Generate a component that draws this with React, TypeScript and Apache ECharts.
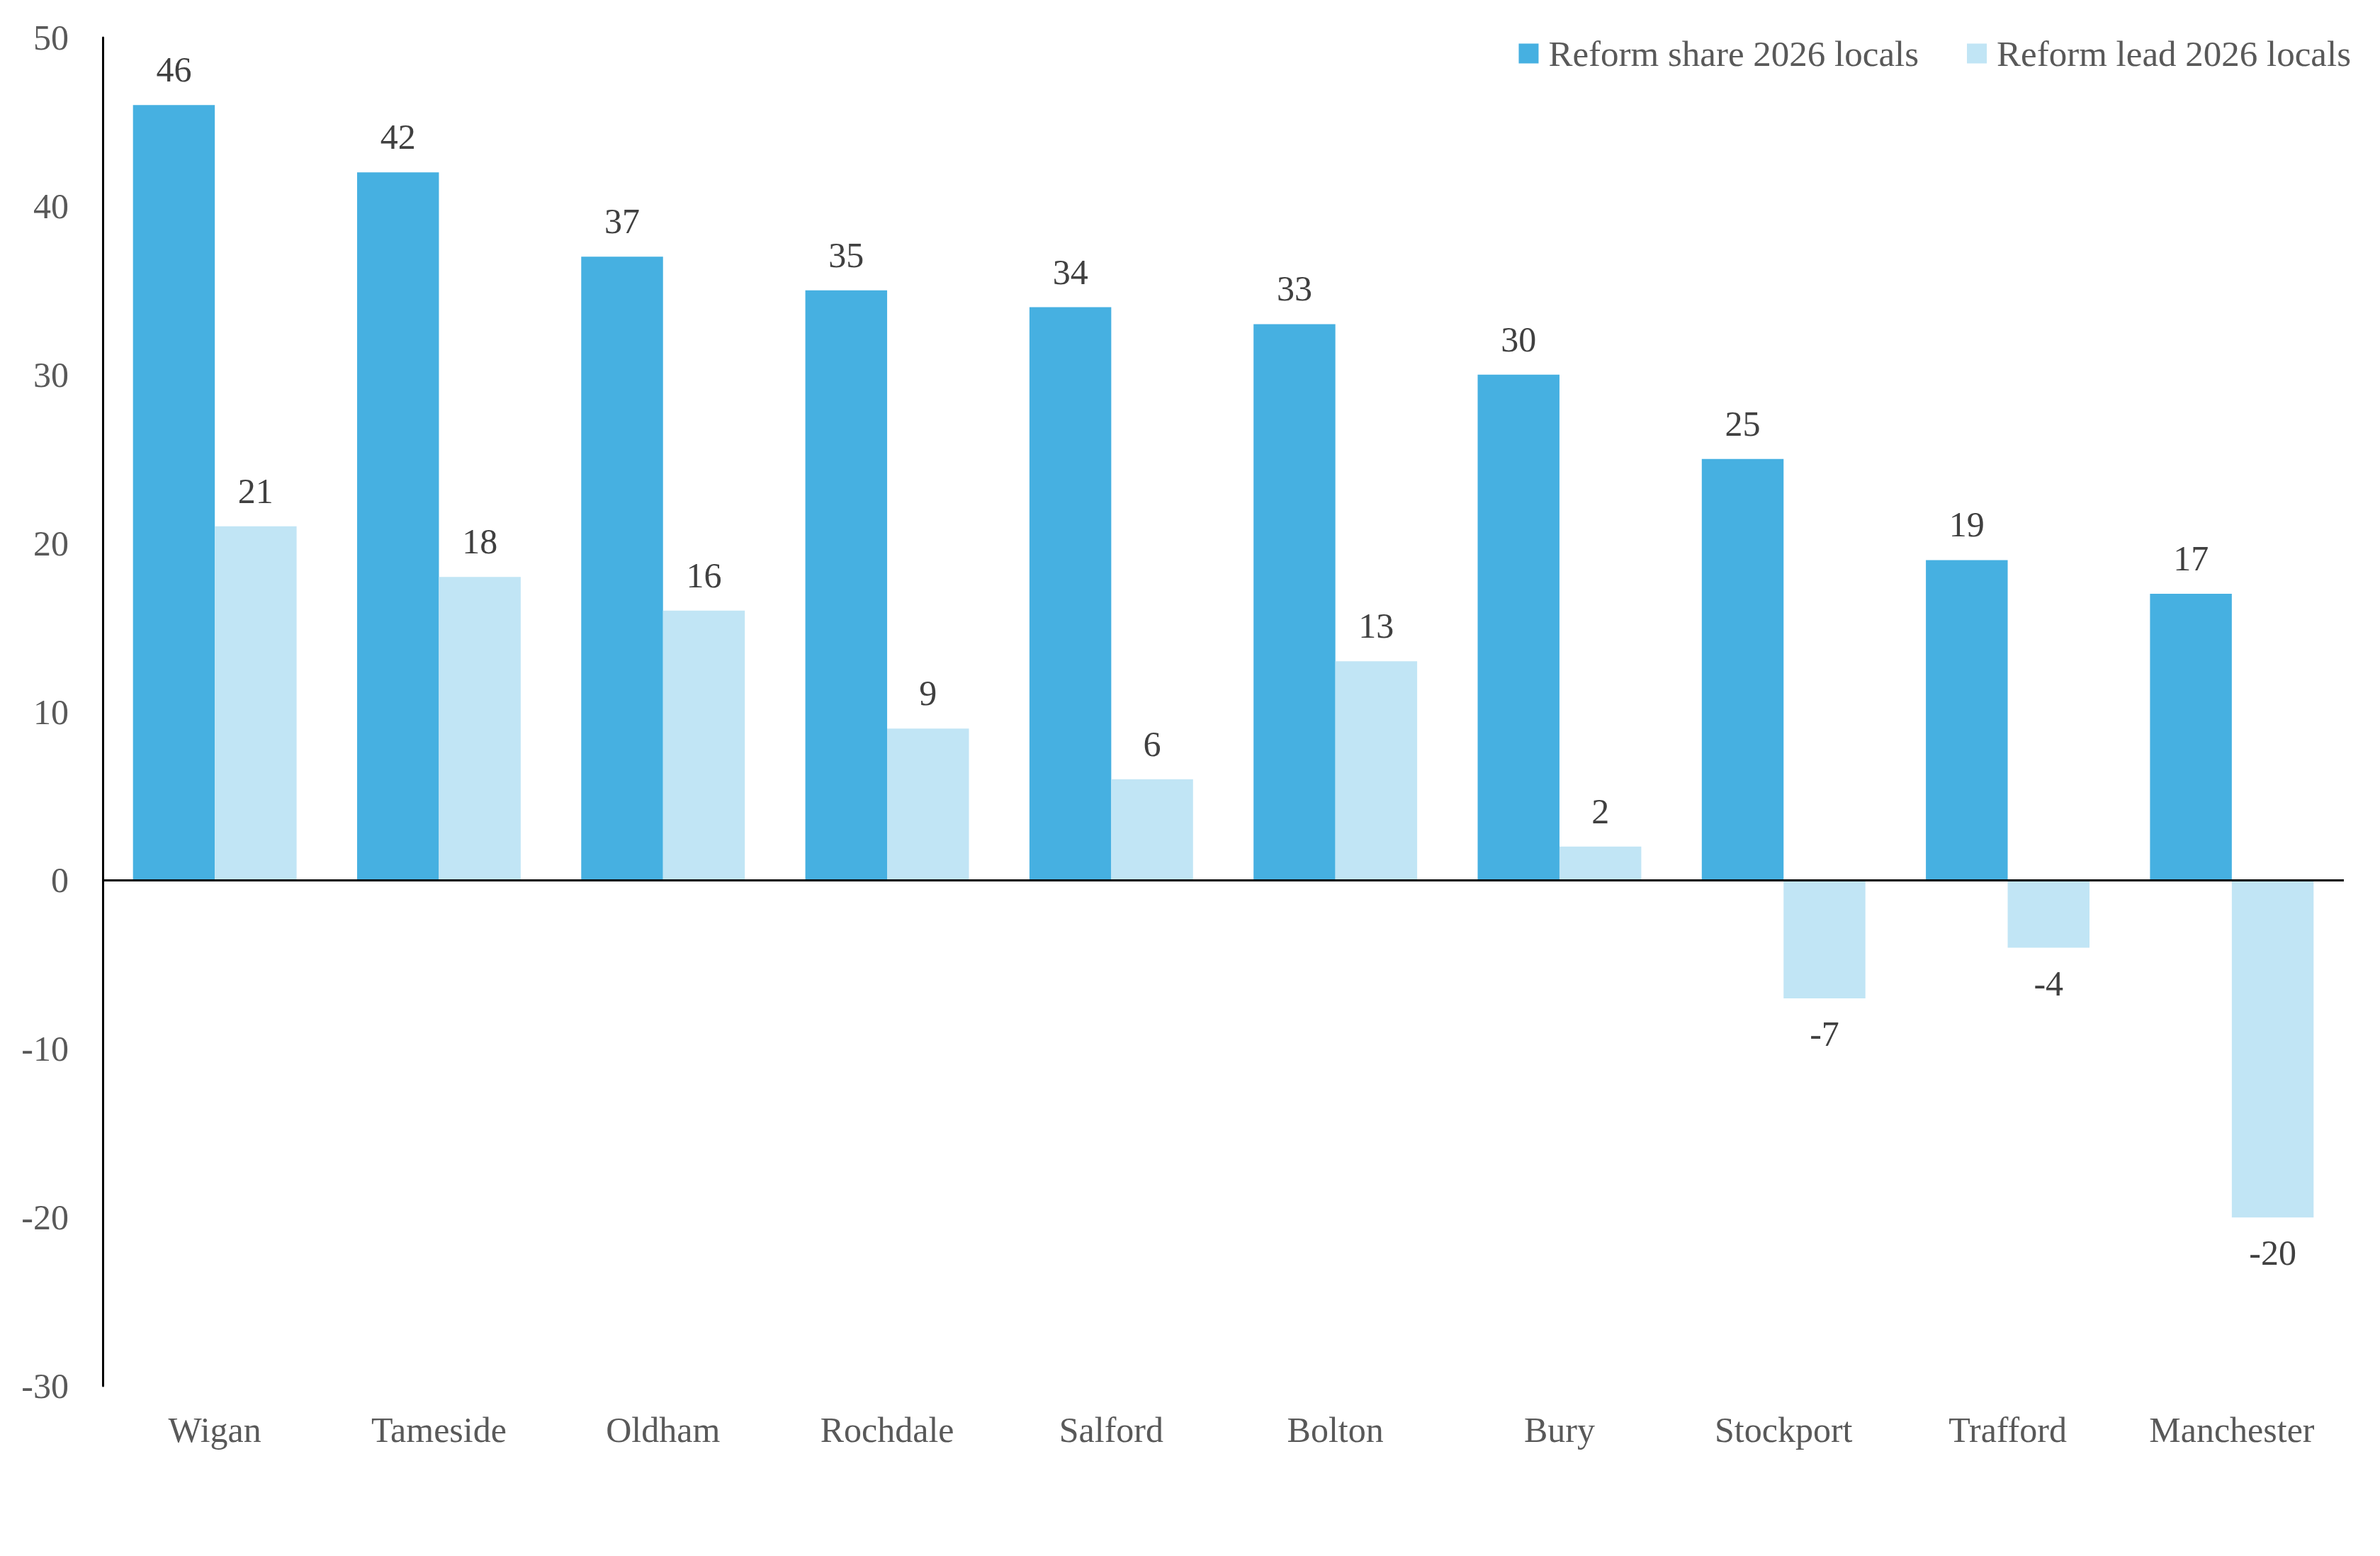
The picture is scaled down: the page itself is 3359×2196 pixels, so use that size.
import React, { useEffect, useRef } from "react";
import * as echarts from "echarts";

const categories = ["Wigan", "Tameside", "Oldham", "Rochdale", "Salford", "Bolton", "Bury", "Stockport", "Trafford", "Manchester"];
const shareValues = [46, 42, 37, 35, 34, 33, 30, 25, 19, 17];
const leadValues = [21, 18, 16, 9, 6, 13, 2, -7, -4, -20];
const seriesNames = ["Reform share 2026 locals", "Reform lead 2026 locals"];
const yMin = -30;
const yMax = 50;
const yInterval = 10;

const FONT = "'Liberation Serif', 'Times New Roman', serif";

export default function App() {
  const ref = useRef<HTMLDivElement>(null);

  useEffect(() => {
    document.body.style.margin = "0";
    if (!ref.current) return;
    const chart = echarts.init(ref.current, null, { renderer: "svg" });

    const toData = (vals: number[]) =>
      vals.map((v) => ({
        value: v,
        label: { position: v < 0 ? "bottom" : "top" },
      }));

    const labelStyle = {
      show: true,
      distance: 25,
      fontFamily: FONT,
      fontSize: 50,
      color: "#404040",
    };

    chart.setOption({
      animation: false,
      backgroundColor: "#ffffff",
      grid: { left: 145, right: 51, top: 53, bottom: 240, containLabel: false },
      legend: {
        right: 36,
        top: 45,
        itemWidth: 28,
        itemHeight: 28,
        itemGap: 68,
        icon: "rect",
        textStyle: { fontFamily: FONT, fontSize: 51, color: "#595959", padding: [0, 0, 0, 9] },
        data: seriesNames,
      },
      xAxis: {
        type: "category",
        data: categories,
        axisLine: { show: false, onZero: false },
        axisTick: { show: false },
        splitLine: { show: false },
        axisLabel: { fontFamily: FONT, fontSize: 50, color: "#595959", margin: 37, interval: 0 },
      },
      yAxis: {
        type: "value",
        min: yMin,
        max: yMax,
        interval: yInterval,
        axisLine: { show: true, lineStyle: { color: "#000000", width: 3 } },
        axisTick: { show: false },
        splitLine: { show: false },
        axisLabel: { fontFamily: FONT, fontSize: 50, color: "#595959", margin: 48 },
      },
      series: [
        {
          name: seriesNames[0],
          type: "bar",
          data: toData(shareValues),
          barGap: "0%",
          barCategoryGap: "27%",
          itemStyle: { color: "#46B0E1" },
          label: labelStyle,
          markLine: {
            silent: true,
            symbol: "none",
            label: { show: false },
            lineStyle: { color: "#000000", width: 3, type: "solid" },
            data: [{ yAxis: 0 }],
            z: 10,
          },
        },
        {
          name: seriesNames[1],
          type: "bar",
          data: toData(leadValues),
          barGap: "0%",
          barCategoryGap: "27%",
          itemStyle: { color: "#C1E5F5" },
          label: labelStyle,
        },
      ],
    });

    return () => chart.dispose();
  }, []);

  return <div ref={ref} style={{ width: 3359, height: 2196 }} />;
}
